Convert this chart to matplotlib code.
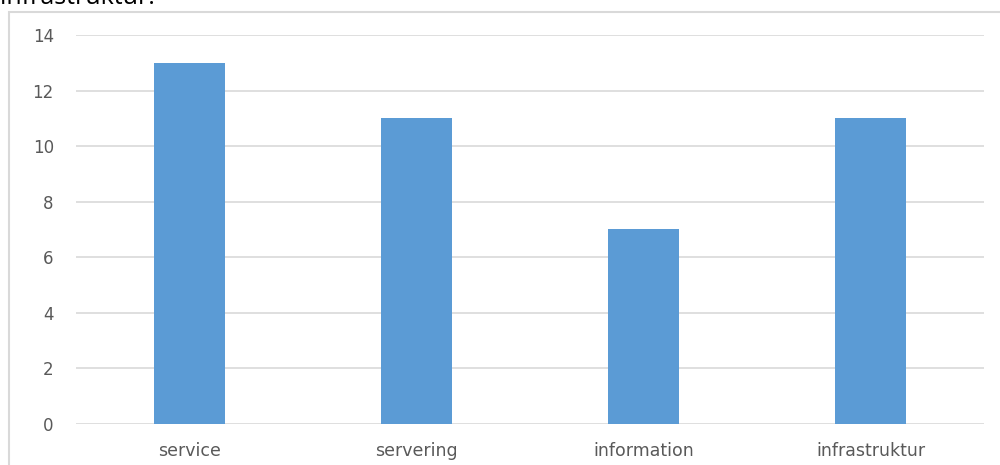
import numpy as np
import matplotlib.pyplot as plt
from matplotlib.patches import Rectangle

categories = ["service", "servering", "information", "infrastruktur"]
values = [13, 11, 7, 11]
yticks = [0, 2, 4, 6, 8, 10, 12, 14]

fig = plt.figure(figsize=(10, 4.65), dpi=100)

# chart frame (cut off at right and bottom)
fig.patches.append(Rectangle((0.009, -0.1), 1.2, 1 - 12 / 465 + 0.1, transform=fig.transFigure,
                             fill=False, edgecolor="#d9d9d9", linewidth=1.5))

# text above the chart, cut off by the top edge
fig.text(0.0, 1 - 4 / 465, "infrastruktur.", fontsize=18, color="black",
         ha="left", va="baseline", family="Open Sans")

ax = fig.add_axes([0.076, 1 - 424 / 465, 0.908, (424 - 35) / 465])
x = np.arange(len(categories))
ax.bar(x, values, width=0.31, color="#5b9bd5", zorder=3)
ax.set_xlim(-0.5, len(categories) - 0.5)
ax.set_ylim(0, 14)
ax.set_yticks(yticks)
ax.set_xticks(x)
ax.set_xticklabels(categories)
ax.grid(axis="y", color="#d9d9d9", linewidth=1.2, zorder=0)
for s in ax.spines.values():
    s.set_visible(False)
ax.tick_params(length=0, colors="#595959")
ax.tick_params(axis="y", pad=16, labelsize=12)
ax.tick_params(axis="x", pad=13, labelsize=12.5)

fig.savefig("out.png", dpi=100)
